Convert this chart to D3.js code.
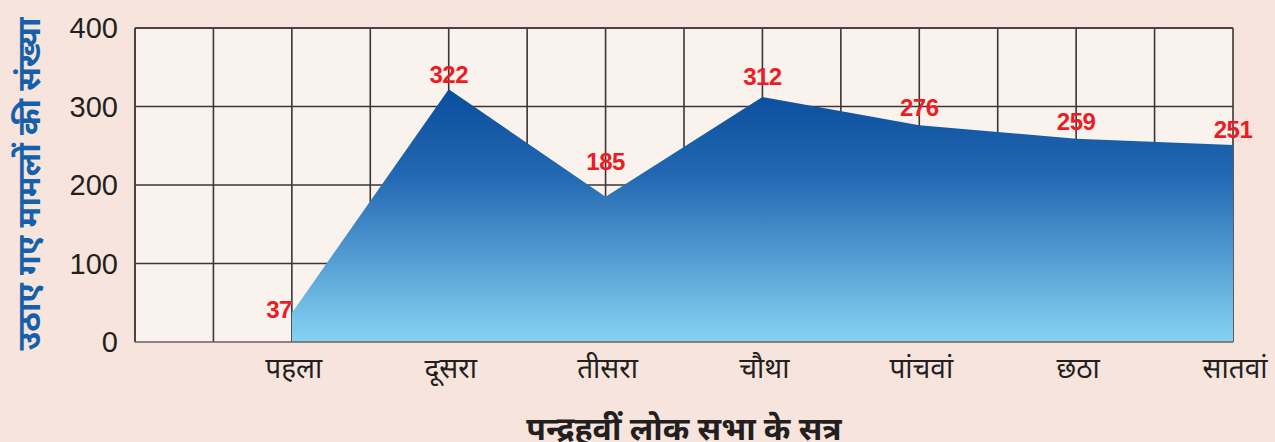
<!DOCTYPE html>
<html>
<head>
<meta charset="utf-8">
<script src="https://cdn.jsdelivr.net/npm/d3@7"></script>
<style>
  html, body { margin: 0; padding: 0; background: #f7e4dc; }
  svg { display: block; }
</style>
</head>
<body>
<svg id="chart" width="1275" height="442"></svg>
<script>
// data
var sessions = ['पहला', 'दूसरा', 'तीसरा', 'चौथा', 'पांचवां', 'छठा', 'सातवां'];
var cases = [37, 322, 185, 312, 276, 259, 251];
var yTicks = [0, 100, 200, 300, 400];
var yTitle = 'उठाए गए मामलों की संख्या';
var xTitle = 'पन्द्रहवीं लोक सभा के सत्र';

// how far each value label sits above its point (layout only)
var labelLift = [-5, 6, 27, 12, 9, 9, 7];

var plot = { left: 135, right: 1233, top: 28, bottom: 342 };

var svg = d3.select('#chart');

// x runs over index; one empty column pair before the first session
var x = d3.scaleLinear().domain([-1, sessions.length - 1]).range([plot.left, plot.right]);
var y = d3.scaleLinear().domain([0, 400]).range([plot.bottom, plot.top]);

var defs = svg.append('defs');
var grad = defs.append('linearGradient')
  .attr('id', 'areaGrad')
  .attr('x1', 0).attr('y1', 0).attr('x2', 0).attr('y2', 1);
grad.append('stop').attr('offset', '0%').attr('stop-color', '#0a4d9c');
grad.append('stop').attr('offset', '35%').attr('stop-color', '#2469b3');
grad.append('stop').attr('offset', '100%').attr('stop-color', '#86d3f4');

// plot background
svg.append('rect')
  .attr('x', plot.left).attr('y', plot.top)
  .attr('width', plot.right - plot.left).attr('height', plot.bottom - plot.top)
  .attr('fill', '#faf2ec');

// grid: vertical lines every half index
var vLines = d3.range(-1, sessions.length - 0.5 + 0.01, 0.5);
svg.append('g')
  .selectAll('line')
  .data(vLines)
  .enter()
  .append('line')
  .attr('x1', (d) => x(d)).attr('x2', (d) => x(d))
  .attr('y1', plot.top).attr('y2', plot.bottom)
  .attr('stroke', '#3b3535')
  .attr('stroke-width', 1.6);

svg.append('g')
  .selectAll('line')
  .data(yTicks.slice(1))
  .enter()
  .append('line')
  .attr('x1', plot.left).attr('x2', plot.right)
  .attr('y1', (d) => y(d)).attr('y2', (d) => y(d))
  .attr('stroke', '#3b3535')
  .attr('stroke-width', 1.6);

// area
var areaMkr = d3.area()
  .x((d, i) => x(i))
  .y0(y(0))
  .y1((d) => y(d));

svg.append('path')
  .attr('d', areaMkr(cases))
  .attr('fill', 'url(#areaGrad)');

// frame lines drawn over the fill
svg.append('line')
  .attr('x1', plot.left).attr('x2', plot.left)
  .attr('y1', plot.top).attr('y2', plot.bottom)
  .attr('stroke', '#4a4242').attr('stroke-width', 2);
svg.append('line')
  .attr('x1', plot.left).attr('x2', plot.right)
  .attr('y1', plot.bottom).attr('y2', plot.bottom)
  .attr('stroke', '#6b6262').attr('stroke-width', 1.5);
svg.append('line')
  .attr('x1', plot.left).attr('x2', plot.right)
  .attr('y1', plot.top).attr('y2', plot.top)
  .attr('stroke', '#4a4242').attr('stroke-width', 2);

// y tick labels
svg.append('g')
  .selectAll('text')
  .data(yTicks)
  .enter()
  .append('text')
  .attr('x', 118)
  .attr('y', (d) => y(d))
  .attr('dy', '0.36em')
  .attr('text-anchor', 'end')
  .attr('font-family', 'Liberation Sans, Arial, sans-serif')
  .attr('font-size', 29)
  .attr('fill', '#231f20')
  .text((d) => d);

// x tick labels
svg.append('g')
  .selectAll('text')
  .data(sessions)
  .enter()
  .append('text')
  .attr('x', (d, i) => x(i) + 2)
  .attr('y', 378)
  .attr('text-anchor', 'middle')
  .attr('font-family', 'Noto Sans, sans-serif')
  .attr('font-size', 28)
  .attr('fill', '#231f20')
  .text((d) => d);

// value labels
svg.append('g')
  .selectAll('text')
  .data(cases)
  .enter()
  .append('text')
  .attr('x', (d, i) => x(i))
  .attr('y', (d, i) => y(d) - labelLift[i])
  .attr('text-anchor', (d, i) => (i === 0 ? 'end' : 'middle'))
  .attr('font-family', 'Liberation Sans, Arial, sans-serif')
  .attr('font-weight', 'bold')
  .attr('font-size', 24)
  .attr('letter-spacing', -0.5)
  .attr('fill', '#ed1c24')
  .text((d) => d);

// axis titles
svg.append('text')
  .attr('transform', 'translate(40,' + 184 + ') rotate(-90)')
  .attr('text-anchor', 'middle')
  .attr('font-family', 'Noto Sans, sans-serif')
  .attr('font-weight', 'bold')
  .attr('font-size', 32)
  .attr('fill', '#1460ab')
  .text(yTitle);

svg.append('text')
  .attr('x', 684)
  .attr('y', 440)
  .attr('text-anchor', 'middle')
  .attr('font-family', 'Noto Sans, sans-serif')
  .attr('font-weight', 'bold')
  .attr('font-size', 32)
  .attr('fill', '#231f20')
  .text(xTitle);
</script>
</body>
</html>
